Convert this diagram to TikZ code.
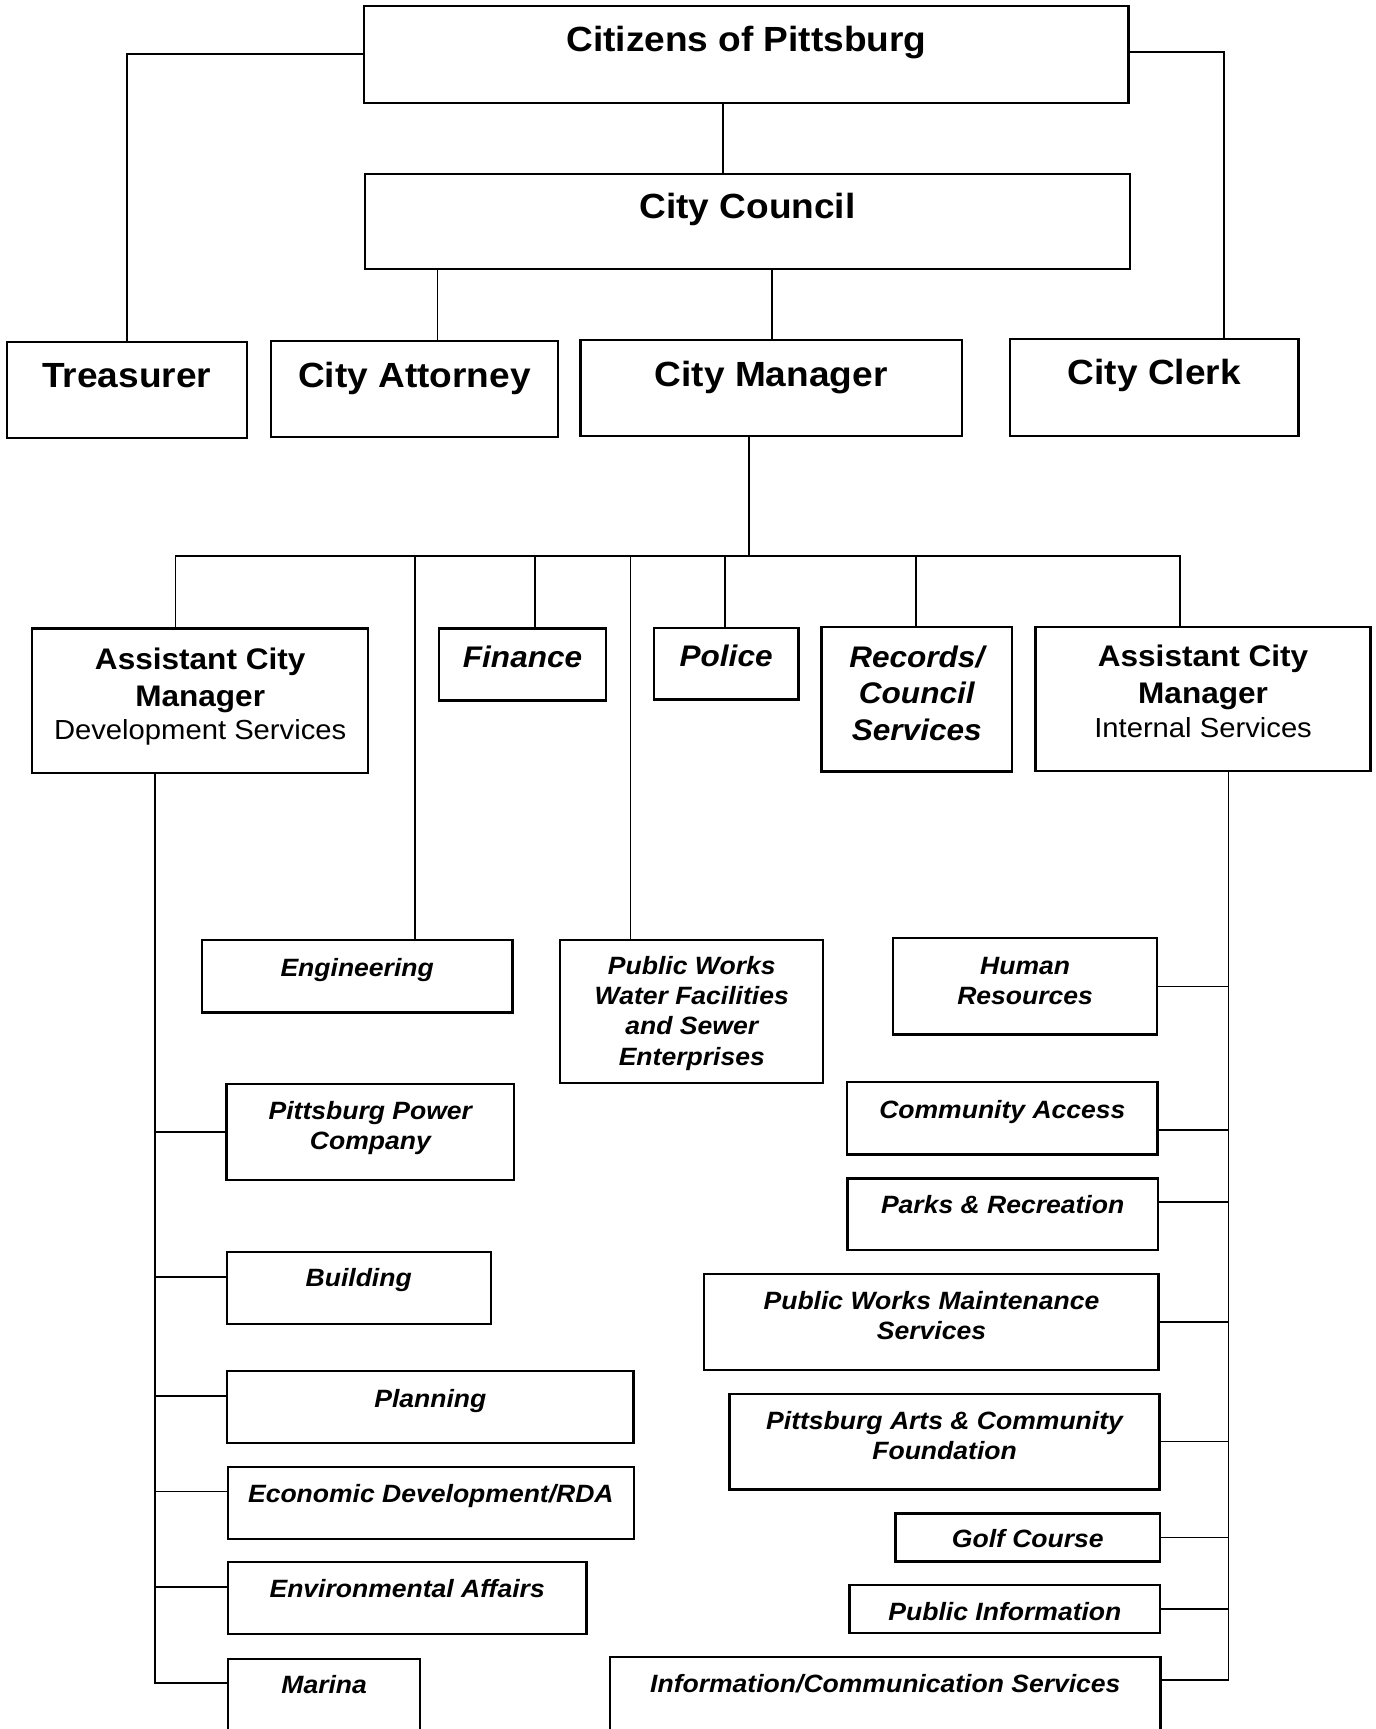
\documentclass[tikz,border=0pt]{standalone}
\usepackage{fontspec}
\setmainfont{Liberation Sans}[FakeStretch=1.06]
\usetikzlibrary{calc}
\newcommand\Lbig{\fontsize{31.7pt}{33pt}\selectfont\bfseries\upshape}
\newcommand\Lmed{\fontsize{27pt}{33pt}\selectfont\bfseries\upshape}
\newcommand\Lmedi{\fontsize{27pt}{33pt}\selectfont\bfseries\itshape}
\newcommand\Lsm{\fontsize{22.7pt}{28pt}\selectfont\bfseries\itshape}
\newcommand\Lreg{\fontsize{25pt}{30pt}\selectfont\mdseries\upshape}
\newcommand\stk[2]{\vtop{\baselineskip=#1\lineskip=0pt\lineskiplimit=-100pt\halign{\hfil##\hfil\cr#2\crcr}}}
\tikzset{
  box/.style={draw, line width=2.1pt, rectangle, inner sep=0pt, outer sep=0pt, anchor=north west},
  txt/.style={anchor=base, inner sep=0pt, outer sep=0pt},
  link/.style={line width=1.6pt, line cap=rect}
}
\newcommand\bt[7]{%
  \node[box, minimum width={#4-#2}, minimum height={#5-#3}] (#1) at (#2,#3) {};
  \node[txt] (#1-t) at (#1.north |- 0,#6) {#7};}
\begin{document}
\begin{tikzpicture}[x=1pt,y=-1pt]
\useasboundingbox (0,0) rectangle (1247,1568);
\clip (0,0) rectangle (1247,1568);
\fill[white] (0,0) rectangle (1247,1568);

% level 1
\bt{cit}{330.4}{5.4}{1023.5}{93.1}{46.5}{\Lbig Citizens of Pittsburg}
\bt{cc}{331}{157.8}{1024.8}{244.2}{198.5}{\Lbig City Council}
\bt{treas}{6.1}{309.9}{223.9}{397}{351}{\Lbig Treasurer}
\bt{atty}{245.8}{309.3}{506}{396.6}{351}{\Lbig City Attorney}
\bt{cm}{526.3}{308.4}{872.4}{395.4}{350.5}{\Lbig City Manager}
\bt{clerk}{916.2}{307.7}{1177.5}{395.4}{349}{\Lbig City Clerk}

% level 2
\bt{acmd}{29.1}{570}{334}{701}{607}{\Lmed\stk{33.4pt}{Assistant City\cr Manager\cr\noalign{\kern-2.8pt}\Lreg Development Services}}
\bt{fin}{398}{570}{549.8}{635.2}{605}{\Lmedi Finance}
\bt{pol}{593}{569.6}{724}{634.5}{604}{\Lmedi Police}
\bt{rec}{745}{568.4}{917.8}{699.6}{605}{\Lmedi\stk{33.2pt}{Records/\cr Council\cr Services}}
\bt{acmi}{939.1}{568.4}{1243}{699}{604.5}{\Lmed\stk{33.4pt}{Assistant City\cr Manager\cr\noalign{\kern-2.8pt}\Lreg Internal Services}}

% level 3
\bt{eng}{183}{852.5}{464.8}{918.3}{885.5}{\Lsm Engineering}
\bt{pww}{508.1}{852.5}{746.6}{982}{883.3}{\Lsm\stk{27.6pt}{Public Works\cr Water Facilities\cr and Sewer\cr Enterprises}}
\bt{hr}{810}{850.9}{1049.3}{938.3}{883.3}{\Lsm\stk{27.6pt}{Human\cr Resources}}
\bt{ppc}{205.3}{983.2}{466.4}{1070}{1015.5}{\Lsm\stk{27.2pt}{Pittsburg Power\cr Company}}
\bt{ca}{768.3}{981.3}{1049.8}{1047}{1014}{\Lsm Community Access}
\bt{parks}{768.6}{1068.8}{1050}{1133.7}{1100.5}{\Lsm Parks \& Recreation}
\bt{bld}{205.6}{1135.3}{445}{1201}{1167}{\Lsm Building}
\bt{pwm}{638.7}{1155.1}{1050.7}{1242.5}{1187.5}{\Lsm\stk{27.2pt}{Public Works Maintenance\cr Services}}
\bt{plan}{206}{1243.4}{574.5}{1308.7}{1276}{\Lsm Planning}
\bt{arts}{661.6}{1264}{1051.6}{1350.7}{1296}{\Lsm\stk{27.2pt}{Pittsburg Arts \& Community\cr Foundation}}
\bt{econ}{206.5}{1330.4}{575}{1395.4}{1362.3}{\Lsm Economic Development/RDA}
\bt{golf}{812.2}{1372.5}{1052}{1416}{1403.6}{\Lsm Golf Course}
\bt{env}{206.5}{1416.8}{532}{1482.1}{1448.7}{\Lsm Environmental Affairs}
\bt{pi}{770.5}{1437.5}{1052.2}{1481}{1469.3}{\Lsm Public Information}
\bt{mar}{207}{1504.2}{381}{1600}{1536}{\Lsm Marina}
\bt{ic}{553.3}{1502.4}{1052.5}{1600}{1534.5}{\Lsm Information/Communication Services}

% coordinates
\coordinate (bus) at (679,504);
\coordinate (spL) at (140.5,0);
\coordinate (spR) at (1114,0);

% connectors level 1
\draw[link] (cit.south -| 656,0) -- (cc.north -| 656,0);
\draw[link] (cit.west) -| (treas.north);
\draw[link] (cit.east |- 0,47.5) -| (clerk.north -| 1110.3,0);
\draw[link] (cc.south -| 396.8,0) -- (atty.north -| 396.8,0);
\draw[link] (cc.south -| 700.3,0) -- (cm.north -| 700.3,0);

% bus
\draw[link] (cm.south -| bus) -- (bus);
\draw[link] (acmd.north -| 159.1,0) -- (bus -| 159.1,0) -- (bus -| 1069.8,0) -- (acmi.north -| 1069.8,0);
\draw[link] (bus -| 376.5,0) -- (eng.north -| 376.5,0);
\draw[link] (bus -| 485,0) -- (fin.north -| 485,0);
\draw[link] (bus -| 571.7,0) -- (pww.north -| 571.7,0);
\draw[link] (bus -| 657.7,0) -- (pol.north -| 657.7,0);
\draw[link] (bus -| 830.5,0) -- (rec.north -| 830.5,0);

% left spine
\draw[link] (acmd.south -| spL) |- (mar.west |- 0,1526.4);
\draw[link] (ppc.west) -- (ppc.west -| spL);
\draw[link] (bld.west |- 0,1157.8) -- (spL |- 0,1157.8);
\draw[link] (plan.west |- 0,1265.9) -- (spL |- 0,1265.9);
\draw[link] (econ.west |- 0,1352.6) -- (spL |- 0,1352.6);
\draw[link] (env.west |- 0,1439.3) -- (spL |- 0,1439.3);

% right spine
\draw[link] (acmi.south -| spR) |- (ic.east |- 0,1523.8);
\draw[link] (hr.east) -- (hr.east -| spR);
\draw[link] (ca.east |- 0,1024.5) -- (spR |- 0,1024.5);
\draw[link] (parks.east |- 0,1089.8) -- (spR |- 0,1089.8);
\draw[link] (pwm.east) -- (pwm.east -| spR);
\draw[link] (arts.east) -- (arts.east -| spR);
\draw[link] (golf.east) -- (golf.east -| spR);
\draw[link] (pi.east) -- (pi.east -| spR);
\end{tikzpicture}
\end{document}
